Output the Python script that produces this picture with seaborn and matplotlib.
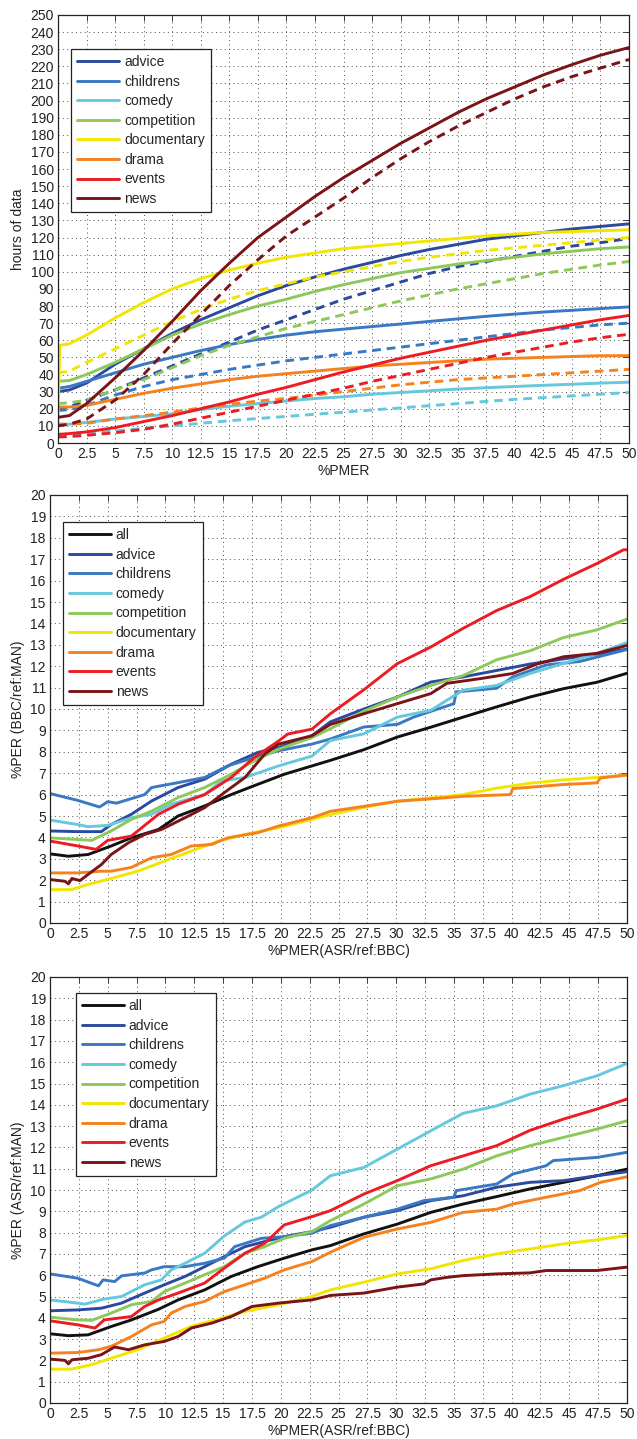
import numpy as np
import pandas as pd
import matplotlib
matplotlib.use("Agg")
import matplotlib.pyplot as plt
from matplotlib.lines import Line2D
import seaborn as sns

# ---------------------------------------------------------------- data
GENRES = ["advice", "childrens", "comedy", "competition",
          "documentary", "drama", "events", "news"]

# Panel 1: hours of data vs %PMER (solid and dashed curve per genre)
XP = [0, 1, 2.5, 5, 7.5, 10, 12.5, 15, 17.5, 20, 22.5, 25, 27.5, 30,
      32.5, 35, 37.5, 40, 42.5, 45, 47.5, 50]
XP_DOC = [0, 0.15, 1, 2.5, 5, 7.5, 10, 12.5, 15, 17.5, 20, 22.5, 25, 27.5,
          30, 32.5, 35, 37.5, 40, 42.5, 45, 47.5, 50]

hours_solid = {
    "advice": [30, 31, 35, 46, 55, 64, 72, 79, 86, 92, 97, 101.5, 105.5,
               109.5, 113, 116, 119, 121, 123, 125, 126.5, 128],
    "childrens": [32, 33, 36, 41, 46, 50, 54, 57.5, 60.5, 63, 65, 66.5, 68,
                  69.5, 71, 72.5, 74, 75.3, 76.5, 77.5, 78.5, 79.5],
    "comedy": [10.5, 11, 12, 14, 15.5, 17, 19.5, 21.5, 23, 24.5, 26, 27,
               28.5, 29.5, 30.5, 31.5, 32.3, 33, 33.7, 34.3, 35, 35.5],
    "competition": [36, 36.5, 40, 47, 55, 63, 69.5, 75, 80, 84, 88.5, 92.5,
                    96, 99.5, 102, 104.5, 106.5, 108.5, 110.5, 112, 113.5,
                    114.5],
    "documentary": [11, 57, 58, 63, 73, 82, 90, 96, 101, 105, 108.5, 111,
                    113.5, 115, 116.5, 118, 119.5, 121, 122, 123, 123.5, 124,
                    124.5],
    "drama": [21, 21, 22, 25.5, 29, 32, 34.5, 37, 39, 40.5, 42, 43.5, 45, 46,
              47, 48, 49, 49.5, 50, 50.5, 51, 51],
    "events": [5, 5.5, 6.5, 9, 12.5, 16, 20, 24, 28.5, 32.5, 37, 41.5, 45.5,
               49.5, 53, 56.5, 60, 63, 66, 69, 72, 74.5],
    "news": [15, 16, 23, 38, 54, 71, 89, 105, 120, 132, 144, 155, 165, 175,
             184, 193, 201, 208, 215, 221, 226.5, 231],
}
hours_dashed = {
    "advice": [20, 21, 25, 31, 38, 45, 52, 59, 66, 72, 78, 84, 89, 94, 99,
               103, 106, 109, 112, 115, 117, 119.5],
    "childrens": [19, 19.5, 22, 28, 33, 37, 40, 43, 45.5, 48, 50, 52, 54, 56,
                  58, 60, 62, 64, 66, 67.5, 69, 70],
    "comedy": [5, 5.2, 6, 7, 8.5, 10, 11.5, 13, 14.3, 15.5, 16.8, 18, 19.3,
               20.5, 21.8, 23, 24.3, 25.5, 26.5, 27.5, 28.5, 29.5],
    "competition": [23, 23.5, 25, 31, 37, 44, 51, 57, 62, 67, 71, 75, 79, 83,
                    86.5, 90, 93, 96, 99, 101.5, 104, 106],
    "documentary": [41, 42, 47, 55, 63, 71, 78, 84, 89, 93, 97, 100, 103, 106,
                    108.5, 110.5, 112.5, 114, 115.5, 117, 118.5, 120],
    "drama": [11, 11, 11.5, 14, 16, 18, 20.5, 22.5, 24.5, 26, 28, 30, 32, 34,
              35.5, 37, 38, 39, 40, 41, 42, 43],
    "events": [3.5, 3.8, 4.5, 6, 8, 11, 14.5, 18, 21.5, 25, 28.5, 32, 36,
               39.5, 43, 46.5, 50, 53, 56, 59, 61.5, 63.5],
    "news": [10, 11, 14, 25, 40, 58, 75, 92, 107, 121, 132, 143, 155, 166,
             176, 185, 193, 201, 208, 214, 219, 224],
}

# Panel 2: %PER (BBC/ref:MAN) vs %PMER(ASR/ref:BBC)
bbc_x = {
    "all": [0, 1.6, 3.3, 5.3, 7.05, 9.4, 11.1, 13.4, 15.7, 18.0, 20.3, 22.7,
            24.3, 27.2, 30.1, 33.0, 35.8, 38.7, 41.6, 44.5, 47.4, 50],
    "advice": [0, 2.4, 4.45, 5.3, 7.05, 8.8, 11.1, 13.4, 15.7, 18.0, 19.8,
               22.7, 24.3, 27.2, 30.1, 33.0, 35.8, 38.7, 41.6, 44.5, 47.4, 50],
    "childrens": [0, 2.4, 4.3, 5.0, 5.75, 8.2, 8.8, 11.1, 13.4, 15.4, 17.5,
                  19.8, 22.7, 24.3, 27.2, 30.1, 31.5, 35.0, 35.2, 38.7, 40.1,
                  43.0, 45.9, 50],
    "comedy": [0, 2.4, 3.3, 5.0, 7.05, 8.8, 10.5, 13.4, 14.9, 16.9, 19.8,
               22.7, 24.3, 27.2, 30.1, 33.0, 35.8, 38.7, 41.6, 44.5, 47.4, 50],
    "competition": [0, 2.4, 3.6, 5.3, 7.05, 8.8, 11.1, 13.4, 15.7, 17.7,
                    19.8, 22.7, 24.3, 27.2, 30.1, 33.0, 35.8, 38.7, 41.6,
                    44.5, 47.4, 50],
    "documentary": [0, 1.85, 3.3, 5.3, 7.6, 9.9, 12.25, 14.6, 16.9, 19.8,
                    22.7, 24.3, 27.2, 30.1, 33.0, 35.8, 38.7, 41.6, 44.5,
                    47.4, 50],
    "drama": [0, 2.4, 4.45, 5.3, 7.05, 8.8, 10.5, 12.25, 14.0, 15.4, 18.0,
              19.8, 22.7, 24.3, 27.2, 30.1, 33.0, 35.8, 39.9, 40.1, 44.5,
              47.4, 47.7, 50],
    "events": [0, 2.4, 4.0, 5.0, 7.05, 9.4, 11.1, 13.4, 15.7, 17.7, 19.8,
               20.6, 22.7, 24.3, 27.2, 30.1, 33.0, 35.8, 38.7, 41.6, 44.5,
               47.4, 49.7, 50],
    "news": [0, 1.3, 1.6, 1.9, 2.6, 3.3, 4.45, 5.3, 6.8, 8.2, 9.65, 11.7,
             13.4, 15.1, 16.9, 18.6, 19.8, 22.7, 24.3, 27.2, 30.1, 33.0,
             34.4, 37.3, 40.1, 42.2, 44.5, 47.4, 50],
}
bbc_y = {
    "all": [3.23, 3.12, 3.2, 3.6, 3.98, 4.37, 5.0, 5.47, 6.0, 6.48, 6.95,
            7.34, 7.6, 8.1, 8.69, 9.15, 9.62, 10.1, 10.56, 10.95, 11.25,
            11.67],
    "advice": [4.3, 4.27, 4.27, 4.6, 5.08, 5.7, 6.33, 6.72, 7.42, 7.97, 8.2,
               8.75, 9.4, 10.0, 10.56, 11.26, 11.5, 11.8, 12.1, 12.34, 12.56,
               12.8],
    "childrens": [6.05, 5.73, 5.42, 5.67, 5.6, 6.0, 6.33, 6.56, 6.8, 7.34,
                  7.7, 8.05, 8.36, 8.6, 9.16, 9.28, 9.62, 10.25, 10.8, 10.97,
                  11.5, 12.06, 12.22, 12.78],
    "comedy": [4.81, 4.6, 4.5, 4.56, 4.92, 5.08, 5.55, 6.0, 6.64, 6.8, 7.34,
               7.8, 8.53, 8.84, 9.62, 9.94, 10.88, 11.1, 11.66, 12.13, 12.6,
               13.1],
    "competition": [3.98, 3.9, 3.86, 4.3, 4.84, 5.23, 5.86, 6.33, 6.95, 7.58,
                    8.12, 8.67, 9.08, 9.9, 10.56, 11.1, 11.56, 12.3, 12.72,
                    13.34, 13.7, 14.2],
    "documentary": [1.56, 1.56, 1.8, 2.08, 2.42, 2.89, 3.36, 3.83, 4.14,
                    4.45, 4.84, 5.06, 5.4, 5.69, 5.85, 6.0, 6.3, 6.53, 6.69,
                    6.8, 6.9],
    "drama": [2.34, 2.34, 2.42, 2.42, 2.6, 3.05, 3.2, 3.6, 3.67, 3.98, 4.22,
              4.53, 4.92, 5.22, 5.45, 5.69, 5.8, 5.92, 6.0, 6.28, 6.47, 6.55,
              6.78, 6.92],
    "events": [3.83, 3.6, 3.44, 3.86, 4.06, 5.08, 5.55, 6.0, 6.8, 7.73, 8.5,
               8.83, 9.06, 9.78, 10.9, 12.12, 12.9, 13.77, 14.6, 15.25, 16.06,
               16.8, 17.44, 17.44],
    "news": [2.03, 1.95, 1.83, 2.08, 1.98, 2.27, 2.73, 3.2, 3.75, 4.14, 4.37,
             4.92, 5.39, 6.09, 6.8, 7.89, 8.36, 8.75, 9.28, 9.78, 10.25,
             10.72, 11.2, 11.42, 11.66, 12.1, 12.44, 12.6, 12.97],
}

# Panel 3: %PER (ASR/ref:MAN) vs %PMER(ASR/ref:BBC)
asr_x = {
    "all": [0, 1.6, 3.3, 5.3, 7.05, 9.4, 11.1, 13.4, 15.7, 18.0, 20.3, 22.7,
            24.3, 27.2, 30.1, 33.0, 35.8, 38.7, 41.6, 44.5, 47.4, 50],
    "advice": [0, 2.4, 4.45, 6.2, 8.2, 9.9, 11.7, 13.4, 15.1, 16.9, 18.6,
               20.3, 22.7, 24.3, 27.2, 30.1, 33.0, 35.8, 38.7, 41.6, 44.5,
               47.4, 50],
    "childrens": [0, 2.4, 4.2, 4.6, 5.6, 6.2, 8.2, 8.8, 9.9, 11.7, 13.4,
                  15.1, 16.0, 18.3, 20.3, 22.7, 24.3, 27.2, 30.1, 32.4, 35.0,
                  35.2, 38.7, 40.1, 43.0, 43.6, 47.4, 50],
    "comedy": [0, 2.4, 3.0, 4.7, 6.2, 8.2, 9.65, 10.5, 11.7, 13.4, 15.1,
               16.9, 18.3, 19.8, 22.7, 24.3, 27.2, 30.1, 33.0, 35.8, 38.7,
               41.6, 44.5, 47.4, 50],
    "competition": [0, 2.4, 3.6, 5.3, 7.05, 8.8, 9.9, 11.7, 13.4, 15.1, 16.9,
                    18.6, 20.3, 22.7, 24.3, 27.2, 30.1, 33.0, 35.8, 38.7,
                    41.6, 44.5, 47.4, 50],
    "documentary": [0, 1.85, 3.6, 5.3, 7.6, 9.9, 12.25, 14.6, 16.9, 19.8,
                    22.7, 24.3, 27.2, 30.1, 33.0, 35.8, 38.7, 41.6, 44.5,
                    47.4, 50],
    "drama": [0, 2.4, 4.2, 5.3, 7.05, 8.8, 9.9, 10.5, 11.7, 13.4, 15.1, 16.9,
              18.6, 20.3, 22.7, 24.3, 27.2, 30.1, 33.0, 35.8, 38.7, 40.1,
              43.0, 45.9, 47.7, 50],
    "events": [0, 2.4, 3.9, 4.7, 7.05, 8.2, 9.4, 11.1, 13.4, 15.1, 16.9,
               18.6, 20.3, 22.7, 24.3, 27.2, 30.1, 33.0, 35.8, 38.7, 41.6,
               44.5, 47.4, 50],
    "news": [0, 1.3, 1.6, 1.9, 3.3, 4.45, 5.6, 6.8, 8.2, 9.9, 11.1, 12.25,
             14.0, 15.7, 17.5, 19.8, 22.7, 24.3, 27.2, 30.1, 32.4, 33.0,
             34.4, 35.8, 38.7, 41.6, 43.0, 47.4, 50],
}
asr_y = {
    "all": [3.25, 3.16, 3.2, 3.59, 3.9, 4.4, 4.84, 5.31, 5.94, 6.4, 6.8,
            7.19, 7.39, 7.94, 8.4, 8.95, 9.34, 9.69, 10.05, 10.36, 10.67,
            10.98],
    "advice": [4.33, 4.37, 4.45, 4.69, 5.16, 5.55, 5.94, 6.4, 6.87, 7.34,
               7.58, 7.81, 8.05, 8.25, 8.72, 9.03, 9.5, 9.73, 10.13, 10.36,
               10.44, 10.67, 10.86],
    "childrens": [6.06, 5.86, 5.5, 5.78, 5.7, 5.97, 6.1, 6.25, 6.4, 6.4,
                  6.56, 6.8, 7.34, 7.73, 7.81, 7.97, 8.33, 8.72, 9.1, 9.5,
                  9.66, 9.97, 10.28, 10.75, 11.14, 11.38, 11.53, 11.77],
    "comedy": [4.84, 4.69, 4.64, 4.88, 5.0, 5.55, 5.78, 6.25, 6.56, 7.03,
               7.84, 8.5, 8.72, 9.22, 10.0, 10.67, 11.06, 11.92, 12.78, 13.6,
               13.95, 14.5, 14.9, 15.36, 15.94],
    "competition": [4.03, 3.9, 3.88, 4.22, 4.61, 4.77, 5.23, 5.63, 6.02, 6.4,
                    7.03, 7.34, 7.73, 8.05, 8.56, 9.34, 10.2, 10.52, 10.98,
                    11.6, 12.08, 12.47, 12.86, 13.25],
    "documentary": [1.59, 1.59, 1.8, 2.1, 2.5, 3.05, 3.6, 3.94, 4.3, 4.61,
                    5.0, 5.31, 5.67, 6.06, 6.3, 6.69, 7.0, 7.23, 7.47, 7.66,
                    7.86],
    "drama": [2.34, 2.37, 2.5, 2.66, 3.12, 3.67, 3.83, 4.22, 4.53, 4.77,
              5.23, 5.55, 5.86, 6.25, 6.64, 7.08, 7.78, 8.17, 8.48, 8.95,
              9.1, 9.34, 9.66, 9.97, 10.36, 10.62],
    "events": [3.86, 3.67, 3.52, 3.9, 4.06, 4.53, 4.84, 5.16, 5.63, 6.33,
               7.03, 7.5, 8.36, 8.75, 9.03, 9.81, 10.44, 11.14, 11.6, 12.08,
               12.8, 13.33, 13.8, 14.27],
    "news": [2.06, 2.0, 1.84, 2.03, 2.1, 2.27, 2.63, 2.5, 2.73, 2.89, 3.12,
             3.52, 3.75, 4.06, 4.53, 4.69, 4.84, 5.05, 5.16, 5.44, 5.59, 5.78,
             5.9, 5.98, 6.06, 6.11, 6.22, 6.22, 6.38],
}

# ---------------------------------------------------------------- style
PALETTE = {
    "all": "#111111",
    "advice": "#2b4a9e",
    "childrens": "#3a78c4",
    "comedy": "#65c8dc",
    "competition": "#8dc85a",
    "documentary": "#f2e600",
    "drama": "#f5821f",
    "events": "#ed1c24",
    "news": "#7b1416",
}
LW = 2.1

sns.set_style("white")
plt.rcParams["font.family"] = ["Liberation Sans", "DejaVu Sans"]
plt.rcParams["font.size"] = 10

fig = plt.figure(figsize=(6.37, 14.39), dpi=100)
W, H = 637.0, 1439.0


def make_axes(left, right, top, bottom):
    return fig.add_axes([left / W, 1 - bottom / H,
                         (right - left) / W, (bottom - top) / H])


def style_axes(ax, ymax, ystep, xlabel, ylabel):
    xt = np.arange(0, 50.01, 2.5)
    ax.set_xlim(0, 50)
    ax.set_xticks(xt)
    ax.set_xticklabels(["%g" % v for v in xt])
    yt = np.arange(0, ymax + 0.01, ystep)
    ax.set_ylim(0, ymax)
    ax.set_yticks(yt)
    ax.set_yticklabels(["%g" % v for v in yt])
    ax.grid(True, linestyle=(0, (1, 3.5)), linewidth=0.7, color="0.3")
    ax.set_axisbelow(True)
    ax.tick_params(direction="in", length=4, width=0.6, top=True,
                   right=True, labelsize=10, pad=3, colors="#222222")
    for s in ax.spines.values():
        s.set_visible(True)
        s.set_color("#222222")
        s.set_linewidth(0.9)
    ax.set_xlabel(xlabel, fontsize=10, labelpad=2, color="#222222")
    ax.set_ylabel(ylabel, fontsize=10, labelpad=4, color="#222222")


def add_legend(ax, names, anchor):
    handles = [Line2D([], [], color=PALETTE[n], linewidth=LW) for n in names]
    leg = ax.legend(handles, names, loc="upper left", bbox_to_anchor=anchor,
                    borderaxespad=0, fancybox=False, framealpha=1,
                    edgecolor="#222222", fontsize=10, handlelength=3.0,
                    handletextpad=0.35, labelspacing=0.4, borderpad=0.45)
    leg.get_frame().set_linewidth(0.9)


# ---- panel 1: hours of data
rows = []
for g in GENRES:
    xs = XP_DOC if g == "documentary" else XP
    rows += [(x, y, g, "solid") for x, y in zip(xs, hours_solid[g])]
    rows += [(x, y, g, "dashed") for x, y in zip(XP, hours_dashed[g])]
df1 = pd.DataFrame(rows, columns=["x", "y", "genre", "kind"])

ax1 = make_axes(58, 629, 15, 443)
sns.lineplot(data=df1, x="x", y="y", hue="genre", style="kind",
             hue_order=GENRES, style_order=["solid", "dashed"],
             palette=PALETTE, dashes={"solid": "", "dashed": (3, 2)},
             estimator=None, sort=False, linewidth=LW, legend=False, ax=ax1)
style_axes(ax1, 250, 10, "%PMER", "hours of data")
add_legend(ax1, GENRES, (0.023, 0.921))

# ---- panels 2 and 3: %PER
ALL_NAMES = ["all"] + GENRES


def per_frame(xd, yd):
    rows = []
    for g in ALL_NAMES:
        rows += [(x, y, g) for x, y in zip(xd[g], yd[g])]
    return pd.DataFrame(rows, columns=["x", "y", "genre"])


ax2 = make_axes(50, 627, 495, 923)
sns.lineplot(data=per_frame(bbc_x, bbc_y), x="x", y="y", hue="genre",
             hue_order=ALL_NAMES, palette=PALETTE, estimator=None, sort=False,
             linewidth=LW, legend=False, ax=ax2)
style_axes(ax2, 20, 1, "%PMER(ASR/ref:BBC)", "%PER (BBC/ref:MAN)")
add_legend(ax2, ALL_NAMES, (0.0225, 0.937))

ax3 = make_axes(50, 627, 977, 1403)
sns.lineplot(data=per_frame(asr_x, asr_y), x="x", y="y", hue="genre",
             hue_order=ALL_NAMES, palette=PALETTE, estimator=None, sort=False,
             linewidth=LW, legend=False, ax=ax3)
style_axes(ax3, 20, 1, "%PMER(ASR/ref:BBC)", "%PER (ASR/ref:MAN)")
add_legend(ax3, ALL_NAMES, (0.045, 0.9625))

fig.savefig("out.png", dpi=100, facecolor="white")
